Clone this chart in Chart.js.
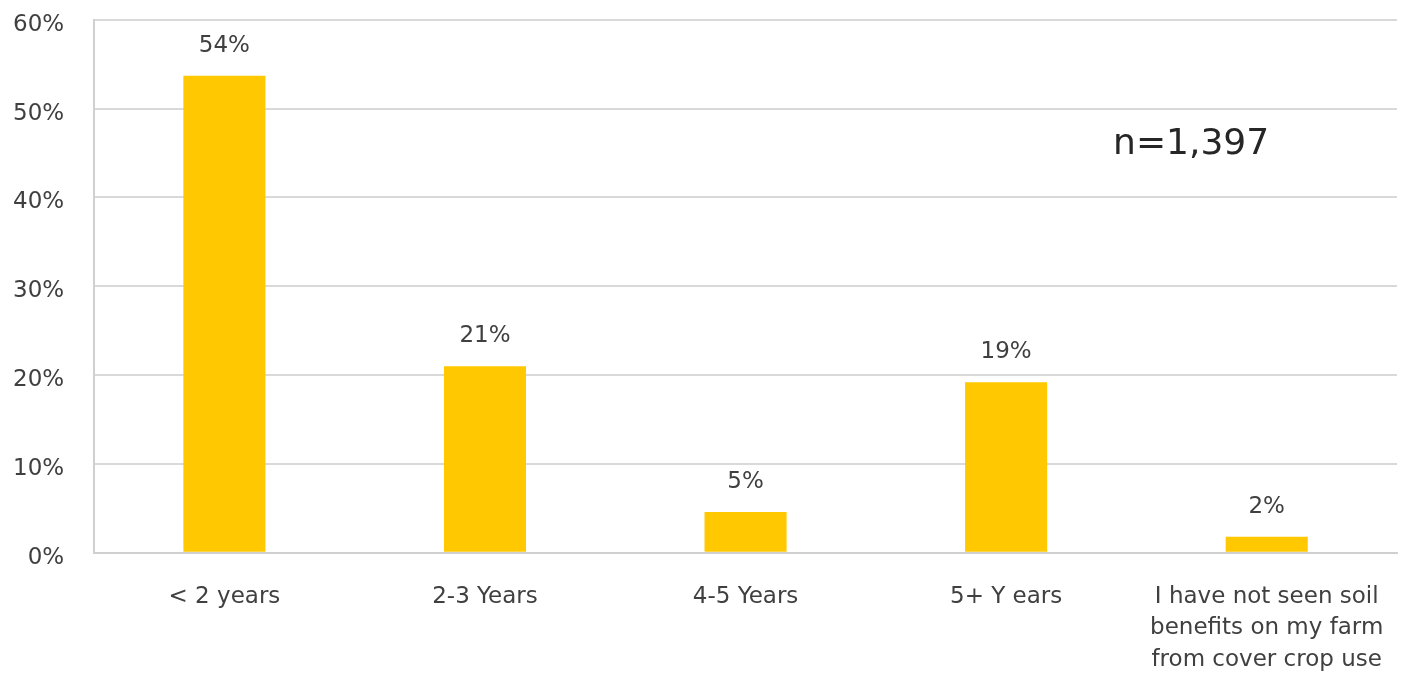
<!DOCTYPE html>
<html>
<head>
<meta charset="utf-8">
<script src="https://cdn.jsdelivr.net/npm/chart.js@4/dist/chart.umd.min.js"></script>
<style>
  html, body { margin: 0; padding: 0; background: #fff; overflow: hidden; }
  #wrap { width: 1415px; height: 708px; margin-top: -24px; }
</style>
</head>
<body>
<div id="wrap"><canvas id="myChart"></canvas></div>
<script>
// categorias del eje x
const categories = [
  '< 2 years',
  '2-3 Years',
  '4-5 Years',
  '5+ Y ears',
  ['I have not seen soil', 'benefits on my farm', 'from cover crop use'],
];
// valores en porcentaje
const values = [53.7, 21, 4.6, 19.2, 1.8];
const yTicks = [0, 10, 20, 30, 40, 50, 60];
const sampleNote = 'n=1,397';

const FONT = '"DejaVu Sans", sans-serif';

// etiquetas sobre cada barra + nota n=
const barLabels = {
  id: 'barLabels',
  afterDatasetsDraw(chart) {
    const ctx = chart.ctx;
    const meta = chart.getDatasetMeta(0);
    ctx.save();
    ctx.font = '23px ' + FONT;
    ctx.fillStyle = '#404040';
    ctx.textAlign = 'center';
    ctx.textBaseline = 'alphabetic';
    meta.data.forEach((bar, i) => {
      ctx.fillText(Math.round(values[i]) + '%', bar.x, bar.y - 24);
    });
    const x = chart.scales.x.getPixelForValue(3.71);
    const y = chart.scales.y.getPixelForValue(45.9);
    ctx.font = '36px ' + FONT;
    ctx.fillStyle = '#262626';
    ctx.textBaseline = 'middle';
    ctx.fillText(sampleNote, x, y);
    ctx.restore();
  },
};

const config = {
  type: 'bar',
  data: {
    labels: categories,
    datasets: [{
      data: values,
      backgroundColor: '#FFC800',
      barPercentage: 0.315,
      categoryPercentage: 1,
    }],
  },
  options: {
    responsive: true,
    maintainAspectRatio: false,
    animation: false,
    layout: { padding: { top: 0, right: 18, left: -17, bottom: -20 } },
    plugins: {
      legend: { display: false },
      tooltip: { enabled: false },
    },
    scales: {
      x: {
        grid: { display: false, drawTicks: false },
        border: { display: true, color: '#d0d0d0', width: 2 },
        ticks: {
          color: '#404040',
          font: { family: FONT, size: 23, lineHeight: 1.38 },
          padding: 28,
          maxRotation: 0,
          autoSkip: false,
        },
      },
      y: {
        min: 0,
        max: 60,
        afterBuildTicks: (axis) => { axis.ticks = yTicks.map(v => ({ value: v })); },
        grid: { color: '#d9d9d9', lineWidth: 2, drawTicks: false },
        border: { display: true, color: '#d0d0d0', width: 2 },
        ticks: {
          color: '#404040',
          font: { family: FONT, size: 23 },
          padding: 30,
          labelOffset: 5,
          callback: (v) => v + '%',
        },
      },
    },
  },
  plugins: [barLabels],
};

const myChart = new Chart(document.getElementById('myChart'), config);
</script>
</body>
</html>
